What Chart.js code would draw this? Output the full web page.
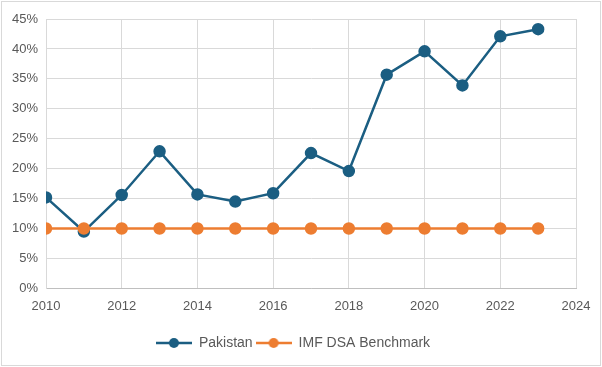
<!DOCTYPE html>
<html>
<head>
<meta charset="utf-8">
<script src="https://cdn.jsdelivr.net/npm/chart.js@4"></script>
<style>
  body { margin: 0; background: #fff; }
  #wrap { position: relative; width: 602px; height: 367px; }
</style>
</head>
<body>
<div id="wrap"><canvas id="myChart" width="602" height="367"></canvas></div>
<script>
const years = [2010, 2011, 2012, 2013, 2014, 2015, 2016, 2017, 2018, 2019, 2020, 2021, 2022, 2023]
const pakistan = [15.2, 9.5, 15.6, 22.9, 15.7, 14.5, 15.9, 22.6, 19.6, 35.7, 39.6, 33.9, 42.1, 43.3]
const benchmark = [10, 10, 10, 10, 10, 10, 10, 10, 10, 10, 10, 10, 10, 10]

const blue = '#1b5e82'
const orange = '#ed7d31'
const textColor = '#595959'
const fontFamily = '"Liberation Sans", Arial, sans-serif'

// little line + dot for the legend, like the office style
function legendIcon(color) {
    const c = document.createElement('canvas')
    c.width = 36
    c.height = 12
    const g = c.getContext('2d')
    g.strokeStyle = color
    g.lineWidth = 2.5
    g.beginPath()
    g.moveTo(0, 6)
    g.lineTo(36, 6)
    g.stroke()
    g.fillStyle = color
    g.beginPath()
    g.arc(18, 6, 5, 0, Math.PI * 2)
    g.fill()
    return c
}

const frame = {
    id: 'frame',
    beforeDraw(chart) {
        const g = chart.ctx
        g.save()
        g.fillStyle = '#fff'
        g.fillRect(0, 0, chart.width, chart.height)
        g.strokeStyle = '#d9d9d9'
        g.lineWidth = 1
        g.strokeRect(1.5, 1.5, chart.width - 3, chart.height - 3)
        g.restore()
    }
}

const ctx = document.querySelector('#myChart')

new Chart(ctx, {
    type: 'line',
    data: {
        datasets: [{
            label: 'Pakistan',
            data: years.map((y, i) => ({ x: y, y: pakistan[i] })),
            borderColor: blue,
            backgroundColor: blue,
            borderWidth: 2.5,
            pointRadius: 5,
            pointHoverRadius: 5,
            order: 2
        }, {
            label: 'IMF DSA Benchmark',
            data: years.map((y, i) => ({ x: y, y: benchmark[i] })),
            borderColor: orange,
            backgroundColor: orange,
            borderWidth: 2.5,
            pointRadius: 5,
            pointHoverRadius: 5,
            order: 1
        }]
    },
    options: {
        responsive: false,
        animation: false,
        layout: { padding: { left: 10, right: 26, top: 19, bottom: 7 } },
        plugins: {
            tooltip: { enabled: false },
            legend: {
                position: 'bottom',
                labels: {
                    usePointStyle: true,
                    pointStyleWidth: 36,
                    boxHeight: 12,
                    color: textColor,
                    font: { family: fontFamily, size: 14 },
                    padding: 3,
                    generateLabels(chart) {
                        return chart.data.datasets.map((ds, i) => ({
                            text: ds.label,
                            fontColor: textColor,
                            pointStyle: legendIcon(ds.borderColor),
                            datasetIndex: i,
                            lineWidth: 0,
                            hidden: false
                        }))
                    }
                }
            }
        },
        scales: {
            x: {
                type: 'linear',
                min: 2010,
                max: 2024,
                ticks: {
                    stepSize: 2,
                    color: textColor,
                    font: { family: fontFamily, size: 13 },
                    padding: 10,
                    callback: v => String(v)
                },
                grid: { color: '#d9d9d9', drawTicks: false },
                border: { color: '#bfbfbf' },
                afterFit(scale) { scale.height += 9 }
            },
            y: {
                min: 0,
                max: 45,
                ticks: {
                    stepSize: 5,
                    color: textColor,
                    font: { family: fontFamily, size: 13 },
                    padding: 8,
                    callback: v => v + '%'
                },
                grid: { color: '#d9d9d9', drawTicks: false },
                border: { color: '#d9d9d9' },
                afterFit(scale) { scale.width = 36 }
            }
        }
    },
    plugins: [frame]
})
</script>
</body>
</html>
